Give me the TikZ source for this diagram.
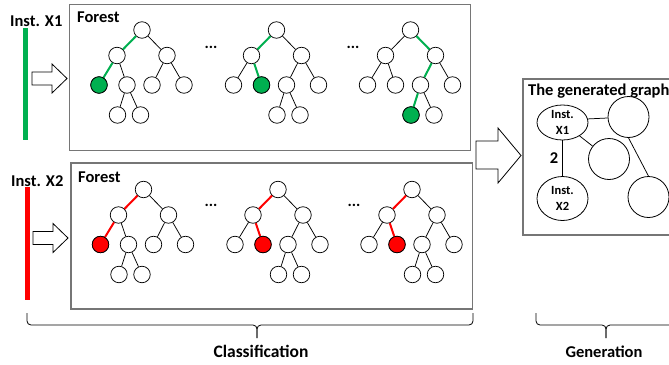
\documentclass[tikz,border=0pt]{standalone}
\usepackage{fontspec}
\setmainfont{Carlito}
\usepackage{tikz}
\usetikzlibrary{shapes.geometric, arrows.meta, positioning, calc}
\definecolor{hitgreen}{HTML}{00B050}
\definecolor{hitred}{HTML}{FF0000}
\definecolor{boxgray}{HTML}{767676}

% one decision tree: name, root x, root y, parent of the lowest pair, its x offset
\newcommand{\dtree}[5]{%
  \node[tnode] (#1-root) at (#2,#3) {};
  \node[tnode] (#1-l) at ({#2-25},{#3+25.5}) {};
  \node[tnode] (#1-r) at ({#2+25},{#3+25.5}) {};
  \node[tnode] (#1-a) at ({#2-43},{#3+55}) {};
  \node[tnode] (#1-b) at ({#2-15},{#3+55}) {};
  \node[tnode] (#1-c) at ({#2+10},{#3+55}) {};
  \node[tnode] (#1-d) at ({#2+42},{#3+55}) {};
  \node[tnode] (#1-e) at ({#2+#5-9.5},{#3+85}) {};
  \node[tnode] (#1-f) at ({#2+#5+13.5},{#3+85}) {};
  \draw[tedge] (#1-root) -- (#1-l);
  \draw[tedge] (#1-root) -- (#1-r);
  \draw[tedge] (#1-l) -- (#1-a);
  \draw[tedge] (#1-l) -- (#1-b);
  \draw[tedge] (#1-r) -- (#1-c);
  \draw[tedge] (#1-r) -- (#1-d);
  \draw[tedge] (#1-#4) -- (#1-e);
  \draw[tedge] (#1-#4) -- (#1-f);
}

\begin{document}
\begin{tikzpicture}[
  x=1pt, y=-1pt,
  tnode/.style={
    circle,
    draw,
    fill=white,
    minimum size=16.5pt,
    inner sep=0pt,
    line width=0.75pt
  },
  tedge/.style={line width=0.75pt},
  gpath/.style={hitgreen, line width=2pt},
  rpath/.style={hitred, line width=2pt},
  gleaf/.style={tnode, fill=hitgreen},
  rleaf/.style={tnode, fill=hitred},
  panel/.style={draw=boxgray, line width=1.3pt},
  hollow/.style={draw, fill=white, line width=0.8pt, line join=miter},
  brace/.style={rounded corners=4pt, line width=0.8pt},
  lbl/.style={font=\bfseries\fontsize{16.5}{19}\selectfont, inner sep=0pt},
  inst/.style={
    ellipse,
    draw,
    fill=white,
    minimum width=51pt,
    inner sep=-3pt,
    line width=0.8pt,
    align=center,
    font=\bfseries\fontsize{12.5}{16}\selectfont
  },
  gnode/.style={circle, draw, fill=white, minimum size=41pt, inner sep=0pt, line width=0.8pt},
  dots/.style={font=\bfseries\fontsize{16}{19}\selectfont, inner sep=0pt}
]
  \useasboundingbox (0,0) rectangle (669,364);
  \clip (0,0) rectangle (669,364);

  % Instances
  \node[lbl, anchor=base west] (inst1) at (10,26) {Inst. X1};
  \node[lbl, anchor=base west] (inst2) at (11,186.5) {Inst. X2};
  \fill[hitgreen] (22.8,28) rectangle (27.8,140);
  \fill[hitred] (24.5,187) rectangle (29.5,300);
  \draw[hollow] (32,72) -- (52,72) -- (52,64) -- (67,78.5) -- (52,93) -- (52,85) -- (32,85) -- cycle;
  \draw[hollow] (33,231.5) -- (53,231.5) -- (53,223.5) -- (68,238) -- (53,252.5) -- (53,244.5) -- (33,244.5) -- cycle;

  % Forests
  \draw[panel] (69.5,4.5) rectangle (470.7,150.5);
  \draw[panel] (71,163) rectangle (472.7,309);
  \node[lbl, anchor=base west] (forest1) at (77,22) {Forest};
  \node[lbl, anchor=base west] (forest2) at (78,182) {Forest};

  \dtree{ga}{142}{30}{b}{-15}
  \dtree{gb}{276.5}{30}{c}{10}
  \dtree{gc}{410.5}{30}{c}{10}
  \dtree{ra}{143.5}{189.5}{b}{-15}
  \dtree{rb}{278}{189.5}{c}{10}
  \dtree{rc}{412}{189.5}{c}{10}

  \node[dots] (gdots1) at (211,47) {...};
  \node[dots] (gdots2) at (353,47) {...};
  \node[dots] (rdots1) at (211,205) {...};
  \node[dots] (rdots2) at (354,205) {...};

  % Decision paths
  \draw[gpath] (ga-root) -- (ga-l) -- (ga-a);
  \draw[gpath] (gb-root) -- (gb-l) -- (gb-b);
  \draw[gpath] (gc-root) -- (gc-r) -- (gc-c) -- (gc-e);
  \draw[rpath] (ra-root) -- (ra-l) -- (ra-a);
  \draw[rpath] (rb-root) -- (rb-l) -- (rb-b);
  \draw[rpath] (rc-root) -- (rc-l) -- (rc-b);
  \node[gleaf] (ga-hit) at (ga-a) {};
  \node[gleaf] (gb-hit) at (gb-b) {};
  \node[gleaf] (gc-hit) at (gc-e) {};
  \node[rleaf] (ra-hit) at (ra-a) {};
  \node[rleaf] (rb-hit) at (rb-b) {};
  \node[rleaf] (rc-hit) at (rc-b) {};

  % Generated graph
  \draw[hollow] (476,141) -- (498,141) -- (498,128) -- (521,155.5) -- (498,183) -- (498,169) -- (476,169) -- cycle;
  \draw[panel] (523,79) rectangle (700,235);
  \node[lbl, anchor=base west] (gtitle) at (528,95) {The generated graph};
  \node[inst, minimum height=35pt] (x1) at (562.5,122.5) {Inst.\\X1};
  \node[inst, minimum height=44pt] (x2) at (562.5,198.5) {Inst.\\X2};
  \node[gnode] (ga) at (628.5,117) {};
  \node[gnode] (gb) at (609,159) {};
  \node[gnode] (gc) at (648.5,197) {};
  \draw[tedge] (x1) -- node[lbl, left=4pt] {2} (x2);
  \draw[tedge] (x1.8) -- (ga);
  \draw[tedge] (x1) -- (gb);
  \draw[tedge] (ga.south) -- (gc.north);

  % Stages
  \draw[brace] (27,313) -- (27,325) -- (257,325) -- (257,338);
  \draw[brace] (473,313) -- (473,325) -- (257,325) -- (257,338);
  \draw[brace] (536,313) -- (536,325) -- (606,325) -- (606,338);
  \draw[brace] (676,313) -- (676,325) -- (606,325) -- (606,338);
  \node[lbl, anchor=base, font=\bfseries\fontsize{17.5}{20}\selectfont] (cls) at (261,357) {Classification};
  \node[lbl, anchor=base] (gen) at (604,357) {Generation};
\end{tikzpicture}
\end{document}
